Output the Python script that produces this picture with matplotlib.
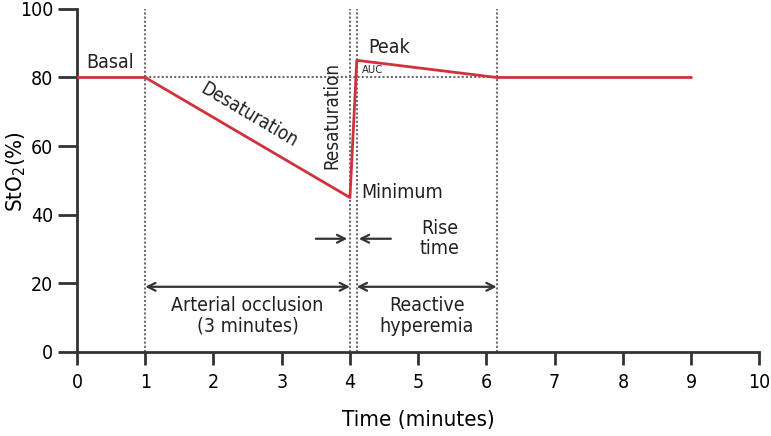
import matplotlib
matplotlib.use("Agg")
import matplotlib.pyplot as plt

plt.rcParams['font.family'] = ['DejaVu Sans']
plt.rcParams['font.stretch'] = 'condensed'

# StO2 curve (time in minutes, StO2 in %)
time_pts = [0, 1, 4.0, 4.1, 6.15, 9]
sto2_pts = [80, 80, 45, 85, 80, 80]

# phase boundaries
phase_x = [1, 4.0, 4.1, 6.15]
basal_level = 80

x_ticks = [0, 1, 2, 3, 4, 5, 6, 7, 8, 9, 10]
y_ticks = [0, 20, 40, 60, 80, 100]

fig = plt.figure(figsize=(7.71, 4.36), dpi=100)
ax = fig.add_axes([0.0999, 0.1927, 0.885, 0.787])

line_col = '#d0313a'
dot_col = '#6e6e6e'
ink = '#222222'

# dotted guides
for px in phase_x:
    ax.plot([px, px], [0, 100], color=dot_col, lw=1.5, ls=(0, (1, 1)), zorder=1)
ax.plot([1, 6.15], [basal_level, basal_level], color=dot_col, lw=1.5, ls=(0, (1, 1)), zorder=1)

ax.plot(time_pts, sto2_pts, color=line_col, lw=2, zorder=3)

# arrows
arr = dict(arrowstyle='<->', color='#333333', lw=1.6, shrinkA=0, shrinkB=0, mutation_scale=14)
ax.annotate('', xy=(1, 19), xytext=(4.0, 19), arrowprops=arr)
ax.annotate('', xy=(4.1, 19), xytext=(6.15, 19), arrowprops=arr)
one = dict(arrowstyle='->', color='#333333', lw=1.6, shrinkA=0, shrinkB=0, mutation_scale=14)
ax.annotate('', xy=(3.96, 33), xytext=(3.5, 33), arrowprops=one)
ax.annotate('', xy=(4.13, 33), xytext=(4.6, 33), arrowprops=one)

fs = 14
ax.text(0.48, 84.5, 'Basal', fontsize=fs, ha='center', va='center', color=ink)
ax.text(2.52, 69, 'Desaturation', fontsize=13.5, ha='center', va='center', rotation=-30.5, color=ink)
ax.text(3.74, 69, 'Resaturation', fontsize=13.5, ha='center', va='center', rotation=90, color=ink)
ax.text(4.57, 88.8, 'Peak', fontsize=fs, ha='center', va='center', color=ink)
ax.text(4.17, 82.2, 'AUC', fontsize=8, ha='left', va='center', color=ink)
ax.text(4.16, 46.5, 'Minimum', fontsize=fs, ha='left', va='center', color=ink)
ax.text(5.31, 33, 'Rise\ntime', fontsize=fs, ha='center', va='center', color=ink, linespacing=1.1)
ax.text(2.5, 10.5, 'Arterial occlusion\n(3 minutes)', fontsize=fs, ha='center', va='center', color=ink, linespacing=1.1)
ax.text(5.13, 10.5, 'Reactive\nhyperemia', fontsize=fs, ha='center', va='center', color=ink, linespacing=1.1)

ax.set_xlim(0, 10)
ax.set_ylim(0, 100)
ax.set_xticks(x_ticks)
ax.set_yticks(y_ticks)
for s in ['top', 'right']:
    ax.spines[s].set_visible(False)
for s in ['left', 'bottom']:
    ax.spines[s].set_color('#333333')
    ax.spines[s].set_linewidth(2)
ax.tick_params(axis='y', direction='out', length=14, width=2, color='#333333', labelsize=14, pad=3)
ax.tick_params(axis='x', direction='out', length=9, width=2, color='#333333', labelsize=14, pad=6)
ax.set_ylabel('StO$_2$(%)', fontsize=16)
ax.yaxis.set_label_coords(-0.072, 0.525)
ax.set_xlabel('Time (minutes)', fontsize=16, labelpad=13)

plt.savefig('out.png', dpi=100)
